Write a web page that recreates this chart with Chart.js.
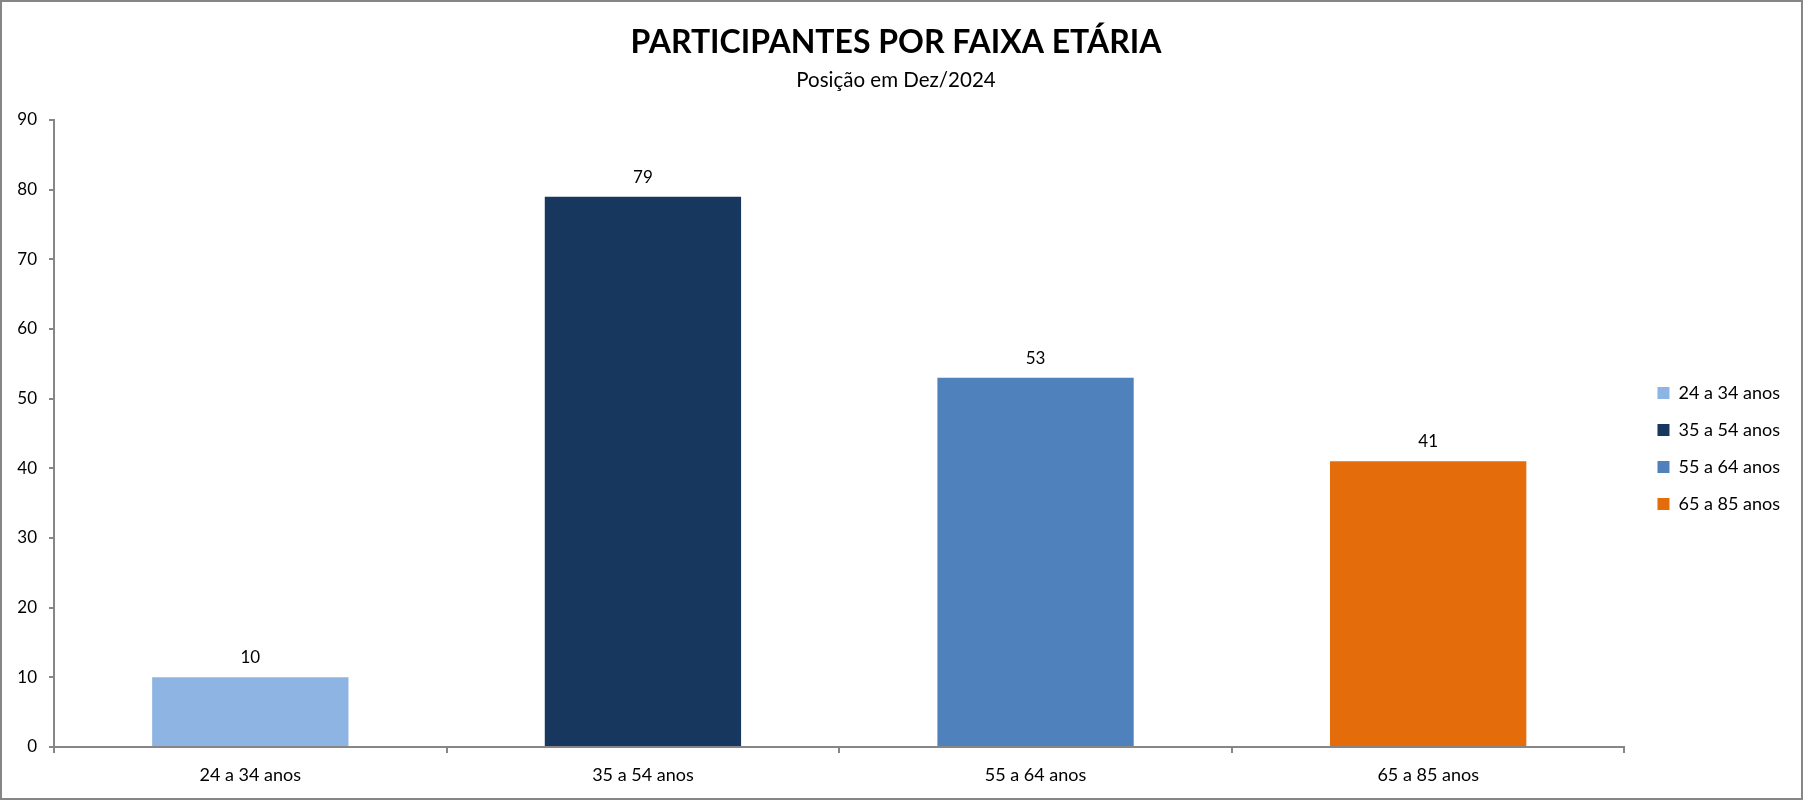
<!DOCTYPE html>
<html>
<head>
<meta charset="utf-8">
<script src="https://cdn.jsdelivr.net/npm/chart.js@4"></script>
<style>
  html, body { margin: 0; padding: 0; background: #fff; }
  #wrap { width: 1803px; height: 800px; box-sizing: border-box; border: 2px solid #868686; }
  #wrap canvas { display: block; }
</style>
</head>
<body>
<div id="wrap"><canvas id="chart"></canvas></div>
<script>
const categories = ["24 a 34 anos", "35 a 54 anos", "55 a 64 anos", "65 a 85 anos"];
const participantes = [10, 79, 53, 41];
const barColors = ["#8EB4E3", "#17375E", "#4F81BD", "#E46C0A"];
const yTicks = [0, 10, 20, 30, 40, 50, 60, 70, 80, 90];

const axisGray = "#868686";
Chart.defaults.font.family = "Lato, 'Noto Sans', sans-serif";
Chart.defaults.color = "#000";

// value labels above each bar
const barValues = {
  id: "barValues",
  afterDatasetsDraw(chart) {
    const ctx = chart.ctx;
    const meta = chart.getDatasetMeta(0);
    ctx.save();
    ctx.font = "17px Lato";
    ctx.fillStyle = "#000";
    ctx.textAlign = "center";
    ctx.textBaseline = "alphabetic";
    meta.data.forEach((bar, i) => {
      ctx.fillText(participantes[i], bar.x, bar.y - 14);
    });
    ctx.restore();
  }
};

new Chart(document.getElementById("chart"), {
  type: "bar",
  data: {
    labels: categories,
    datasets: [{
      label: "Participantes",
      data: participantes,
      backgroundColor: barColors,
      barPercentage: 0.5,
      categoryPercentage: 1.0
    }]
  },
  options: {
    responsive: true,
    maintainAspectRatio: false,
    animation: false,
    layout: { padding: { left: 0, right: 11, top: 0, bottom: 0 } },
    plugins: {
      title: {
        display: true,
        text: "PARTICIPANTES POR FAIXA ETÁRIA",
        font: { size: 32, weight: "bold" },
        color: "#000",
        padding: { top: 21, bottom: 7 }
      },
      subtitle: {
        display: true,
        text: "Posição em Dez/2024",
        font: { size: 20.5 },
        color: "#000",
        padding: { top: 0, bottom: 27 }
      },
      legend: {
        position: "right",
        title: { display: true, text: " ", font: { size: 1 }, padding: { top: 48, bottom: 48 } },
        labels: {
          boxWidth: 12,
          boxHeight: 12,
          padding: 19,
          font: { size: 18 },
          color: "#000",
          generateLabels: () => categories.map((c, i) => ({
            text: c,
            fillStyle: barColors[i],
            strokeStyle: barColors[i],
            lineWidth: 0,
            hidden: false,
            index: i
          }))
        }
      },
      tooltip: { enabled: false }
    },
    scales: {
      x: {
        afterFit: (s) => { s.height = 51; },
        grid: {
          offset: true,
          drawOnChartArea: false,
          drawTicks: true,
          tickLength: 6,
          color: axisGray,
          lineWidth: 2
        },
        border: { color: axisGray, width: 2 },
        ticks: { font: { size: 18 }, color: "#000", padding: 11 }
      },
      y: {
        min: 0,
        max: 90,
        afterFit: (s) => { s.width = 52; },
        afterBuildTicks: (s) => { s.ticks = yTicks.map(v => ({ value: v })); },
        grid: {
          drawOnChartArea: false,
          drawTicks: true,
          tickLength: 5,
          color: axisGray,
          lineWidth: 2
        },
        border: { color: axisGray, width: 2 },
        ticks: { font: { size: 17 }, color: "#000", padding: 12 }
      },
      // empty spacer between plot and legend
      gap: {
        position: "right",
        min: 0,
        max: 1,
        afterFit: (s) => { s.width = 14; },
        grid: { display: false },
        border: { display: false },
        ticks: { display: false }
      }
    }
  },
  plugins: [barValues]
});
</script>
</body>
</html>
